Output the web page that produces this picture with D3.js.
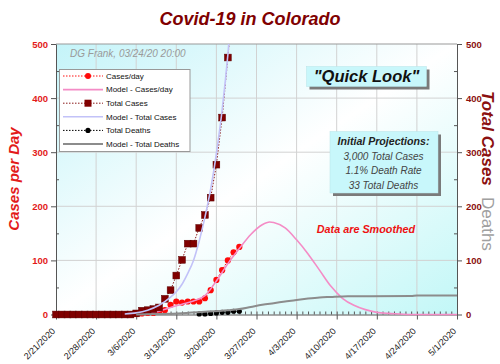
<!DOCTYPE html>
<html><head><meta charset="utf-8">
<script src="https://cdn.jsdelivr.net/npm/d3@7"></script>
<style>
body{margin:0;background:#fff}
svg{display:block;font-family:"Liberation Sans",Arial,sans-serif}
</style>
</head><body>
<svg id="c" width="500" height="364"></svg>
<script>
// ---------- data ----------
const startDay = "2020-02-21";
const endDay = "2020-05-01";
const axisDates = ["2020-02-21","2020-02-28","2020-03-06","2020-03-13","2020-03-20","2020-03-27","2020-04-03","2020-04-10","2020-04-17","2020-04-24","2020-05-01"];
const yTicks = [0,100,200,300,400,500];
const yMinor = [50,150,250,350,450];
// daily values starting 2/21/2020
const totalCases = [0,0,0,0,0,0,0,0,0,0,0,0,0,0,2,7,8,10,13,29,45,72,101,131,131,160,184,216,277,364,475,591,720];
const casesPerDay = [0,0,0,0,0,0,0,0,0,0,0,0,0,0,1,2,3,3,5,8,18,24,22,24,24,24,30,45,64,82,100,115,125];
// deaths starting day 25 (3/17)
const deathDays = [25,26,27,28,29,30,31,32];
const totalDeaths = [1,1,2,3,4,4,6,6];
// models (day offsets from 2/21)
const modelCasesDays = [14,16,18,20,22,24,26,28,30,32,34,36,37.3,38,40,42,44,46,48,50,52,54,56,58,60,62,66,70];
const modelCasesPerDay = [0,2,6,13,19,25,35,62,94,122,148,166,171,170,160,138,112,82,52,30,17,9,4,2,1,0,0,0];
const modelTotalDays = [12,14,16,18,20,21,22,23,24,25,26,27,28,29,30,31];
const modelTotalCases = [1,3,8,17,32,42,56,76,100,136,180,232,298,378,480,610];
const modelDeathDays = [14,18,22,26,30,32,34,36,38,40,42,44,46,48,50,55,62,63,70];
const modelTotalDeaths = [0,1,2.5,5,8,10,14,18,21,24,27,29.5,31.5,32.5,33.5,33.8,34,35,35];
const legendItems = ["Cases/day","Model - Cases/day","Total Cases","Model - Total Cases","Total Deaths","Model - Total Deaths"];
const projections = ["Initial Projections:","3,000 Total Cases","1.1% Death Rate","33 Total Deaths"];

// ---------- setup ----------
const parse = d3.timeParse("%Y-%m-%d");
const t0 = parse(startDay), t1 = parse(endDay);
const dayDate = d => new Date(t0.getTime() + d*86400000);
const L = 56, R = 457, T = 44, B = 314.5;
const x = d3.scaleTime().domain([t0,t1]).range([L,R]);
const y = d3.scaleLinear().domain([0,500]).range([B,T]);
const svg = d3.select("#c");
const defs = svg.append("defs");
const g = defs.append("linearGradient").attr("id","bg").attr("x1",0).attr("y1",0).attr("x2",1).attr("y2",1);
g.append("stop").attr("offset",0).attr("stop-color","#c4f4f9");
g.append("stop").attr("offset",0.5).attr("stop-color","#ffffff");
g.append("stop").attr("offset",1).attr("stop-color","#c2f7f7");
defs.append("clipPath").attr("id","clip").append("rect").attr("x",L-5).attr("y",T).attr("width",R-L+10).attr("height",B-T+6);

svg.append("rect").attr("x",L).attr("y",T).attr("width",R-L).attr("height",B-T).attr("fill","url(#bg)");

// gridlines
svg.append("g").selectAll("line").data(axisDates.slice(1,-1)).join("line")
  .attr("x1",d=>x(parse(d))).attr("x2",d=>x(parse(d))).attr("y1",T).attr("y2",B)
  .attr("stroke","#d2d2d2").attr("stroke-width",1);
svg.append("g").selectAll("line").data(yTicks.slice(1,-1)).join("line")
  .attr("x1",L).attr("x2",R).attr("y1",d=>y(d)).attr("y2",d=>y(d))
  .attr("stroke","#d2d2d2").attr("stroke-width",1);
svg.append("line").attr("x1",L).attr("x2",R).attr("y1",T).attr("y2",T).attr("stroke","#999");

// axes
function styleAxis(sel, col){
  sel.select(".domain").attr("stroke",col);
  sel.selectAll(".tick line").attr("stroke",col);
}
const la = svg.append("g").attr("transform",`translate(${L},0)`)
  .call(d3.axisLeft(y).tickValues(yTicks).tickSize(5).tickSizeOuter(0).tickPadding(3));
styleAxis(la,"#555");
la.selectAll("text").attr("fill","#e31a1a").attr("font-weight","bold").attr("font-size",9.5).attr("font-family","Liberation Sans, Arial");
svg.append("g").attr("transform",`translate(${L},0)`)
  .call(d3.axisRight(y).tickValues(yMinor).tickSize(3).tickFormat(""))
  .call(s=>{s.select(".domain").remove(); s.selectAll("line").attr("stroke","#555");});
const ra = svg.append("g").attr("transform",`translate(${R},0)`)
  .call(d3.axisRight(y).tickValues(yTicks).tickSize(5).tickSizeOuter(0).tickPadding(4));
styleAxis(ra,"#555");
ra.selectAll("text").attr("fill","#8b1010").attr("font-weight","bold").attr("font-size",9.5).attr("font-family","Liberation Sans, Arial");
svg.append("g").attr("transform",`translate(${R},0)`)
  .call(d3.axisLeft(y).tickValues(yMinor).tickSize(3).tickFormat(""))
  .call(s=>{s.select(".domain").remove(); s.selectAll("line").attr("stroke","#555");});

svg.append("g").attr("transform",`translate(0,${B})`)
  .call(d3.axisTop(x).ticks(d3.timeDay.every(1)).tickSize(3).tickFormat(""))
  .call(s=>{s.select(".domain").remove(); s.selectAll("line").attr("stroke","#555");});
const fmt = d3.timeFormat("%-m/%-d/%Y");
const ba = svg.append("g").attr("transform",`translate(0,${B})`)
  .call(d3.axisBottom(x).tickValues(axisDates.map(parse)).tickSize(5).tickSizeOuter(0).tickFormat(fmt));
styleAxis(ba,"#555");
ba.selectAll("text").attr("y",0).attr("dy","0.35em").attr("text-anchor","end")
  .attr("transform","translate(-3,15) rotate(-45)")
  .attr("font-size",9).attr("fill","#222").attr("font-family","Liberation Sans, Arial");

// ---------- series ----------
const plot = svg.append("g").attr("clip-path","url(#clip)");
const lineD = d3.line().x(d=>x(d[0])).y(d=>y(d[1]));
const lineM = d3.line().x(d=>x(d[0])).y(d=>y(d[1])).curve(d3.curveMonotoneX);

const cpd = casesPerDay.map((v,i)=>[dayDate(i),v]);
const tc = totalCases.map((v,i)=>[dayDate(i),v]);
const td = totalDeaths.map((v,i)=>[dayDate(deathDays[i]),v]);
const mc = modelCasesPerDay.map((v,i)=>[dayDate(modelCasesDays[i]),v]);
const mt = modelTotalCases.map((v,i)=>[dayDate(modelTotalDays[i]),v]);
const md = modelTotalDeaths.map((v,i)=>[dayDate(modelDeathDays[i]),v]);

plot.append("path").attr("d",lineD(cpd)).attr("fill","none").attr("stroke","#ff1010").attr("stroke-width",1).attr("stroke-dasharray","1.5,1.5");
plot.selectAll(".cpd").data(cpd).join("circle").attr("cx",d=>x(d[0])).attr("cy",d=>y(d[1])).attr("r",3.1).attr("fill","#ff0a0a");
plot.append("path").attr("d",lineM(mc)).attr("fill","none").attr("stroke","#f48cc6").attr("stroke-width",1.6);
plot.append("path").attr("d",lineD(tc)).attr("fill","none").attr("stroke","#8a1a1a").attr("stroke-width",1).attr("stroke-dasharray","1.5,1.5");
plot.selectAll(".tc").data(tc).join("rect").attr("x",d=>x(d[0])-3.4).attr("y",d=>y(d[1])-3.4).attr("width",6.8).attr("height",6.8)
  .attr("fill","#800000").attr("stroke","#5a0000").attr("stroke-width",0.5);
plot.append("path").attr("d",lineM(mt)).attr("fill","none").attr("stroke","#c2c2f8").attr("stroke-width",1.6);
plot.append("path").attr("d",lineD(td)).attr("fill","none").attr("stroke","#000").attr("stroke-width",1).attr("stroke-dasharray","1.5,1.5");
plot.selectAll(".td").data(td).join("circle").attr("cx",d=>x(d[0])).attr("cy",d=>y(d[1])).attr("r",2.6).attr("fill","#000");
plot.append("path").attr("d",lineM(md)).attr("fill","none").attr("stroke","#8c8c8c").attr("stroke-width",2);

// ---------- legend ----------
const lg = svg.append("g");
lg.append("rect").attr("x",59.5).attr("y",69.5).attr("width",130.5).attr("height",82).attr("fill","#fff").attr("stroke","#999");
const ly = i => 76 + i*13.6;
legendItems.forEach((t,i)=>{
  const yy = ly(i);
  const styles = [
    {c:"#ff1010",dash:"1.5,1.5",w:1},{c:"#f48cc6",dash:null,w:1.6},{c:"#8a1a1a",dash:"1.5,1.5",w:1},
    {c:"#c2c2f8",dash:null,w:1.6},{c:"#000",dash:"1.5,1.5",w:1},{c:"#8c8c8c",dash:null,w:2}][i];
  const ln = lg.append("line").attr("x1",63).attr("x2",103).attr("y1",yy).attr("y2",yy).attr("stroke",styles.c).attr("stroke-width",styles.w);
  if(styles.dash) ln.attr("stroke-dasharray",styles.dash);
  if(i===0) lg.append("circle").attr("cx",88).attr("cy",yy).attr("r",3).attr("fill","#ff0a0a");
  if(i===2) lg.append("rect").attr("x",84.5).attr("y",yy-3.5).attr("width",7).attr("height",7).attr("fill","#800000");
  if(i===4) lg.append("circle").attr("cx",88).attr("cy",yy).attr("r",2.6).attr("fill","#000");
  lg.append("text").attr("x",106).attr("y",yy).attr("dy","0.35em").attr("font-size",8).attr("fill","#111").text(t);
});

// ---------- texts ----------
svg.append("text").attr("x",250).attr("y",25).attr("text-anchor","middle").attr("font-size",18).attr("font-weight","bold").attr("font-style","italic").attr("fill","#800000").text("Covid-19 in Colorado");
svg.append("text").attr("x",70).attr("y",57).attr("font-size",10).attr("font-style","italic").attr("fill","#9a9a9a").text("DG Frank, 03/24/20 20:00");

// Quick Look box
svg.append("rect").attr("x",309.5).attr("y",69.5).attr("width",120).attr("height",20).attr("fill","#7a7a7a");
svg.append("rect").attr("x",306.5).attr("y",66.5).attr("width",120).attr("height",20).attr("fill","#c8f7fb").attr("stroke","#b8e4e8").attr("stroke-width",0.5);
svg.append("text").attr("x",366.5).attr("y",82).attr("text-anchor","middle").attr("font-size",16.5).attr("font-weight","bold").attr("font-style","italic").attr("fill","#111").text('"Quick Look"');

// projections box
svg.append("rect").attr("x",333).attr("y",134.5).attr("width",108).attr("height",61.5).attr("fill","#7a7a7a");
svg.append("rect").attr("x",330).attr("y",131.5).attr("width",108).attr("height",61.5).attr("fill","#c8f7fb").attr("stroke","#b8e4e8").attr("stroke-width",0.5);
projections.forEach((t,i)=>{
  svg.append("text").attr("x",383.5).attr("y",145+i*14.6).attr("text-anchor","middle")
    .attr("font-size",i===0?10.6:10).attr("font-weight",i===0?"bold":"normal").attr("font-style","italic")
    .attr("fill",i===0?"#222":"#444").text(t);
});

svg.append("text").attr("x",366).attr("y",233).attr("text-anchor","middle").attr("font-size",10.8).attr("font-weight","bold").attr("font-style","italic").attr("fill","#ee1111").text("Data are Smoothed");

// axis titles
svg.append("text").attr("transform","translate(19,179) rotate(-90)").attr("text-anchor","middle")
  .attr("font-size",15).attr("font-weight","bold").attr("font-style","italic").attr("fill","#e31a1a").text("Cases per Day");
svg.append("text").attr("transform","translate(482,91) rotate(90)").attr("text-anchor","start").attr("font-size",17)
  .attr("font-weight","bold").attr("font-style","italic").attr("fill","#8b1010").text("Total Cases");
svg.append("text").attr("transform","translate(482,197) rotate(90)").attr("text-anchor","start").attr("font-size",17)
  .attr("fill","#a0a0a0").text("Deaths");
</script>
</body></html>
